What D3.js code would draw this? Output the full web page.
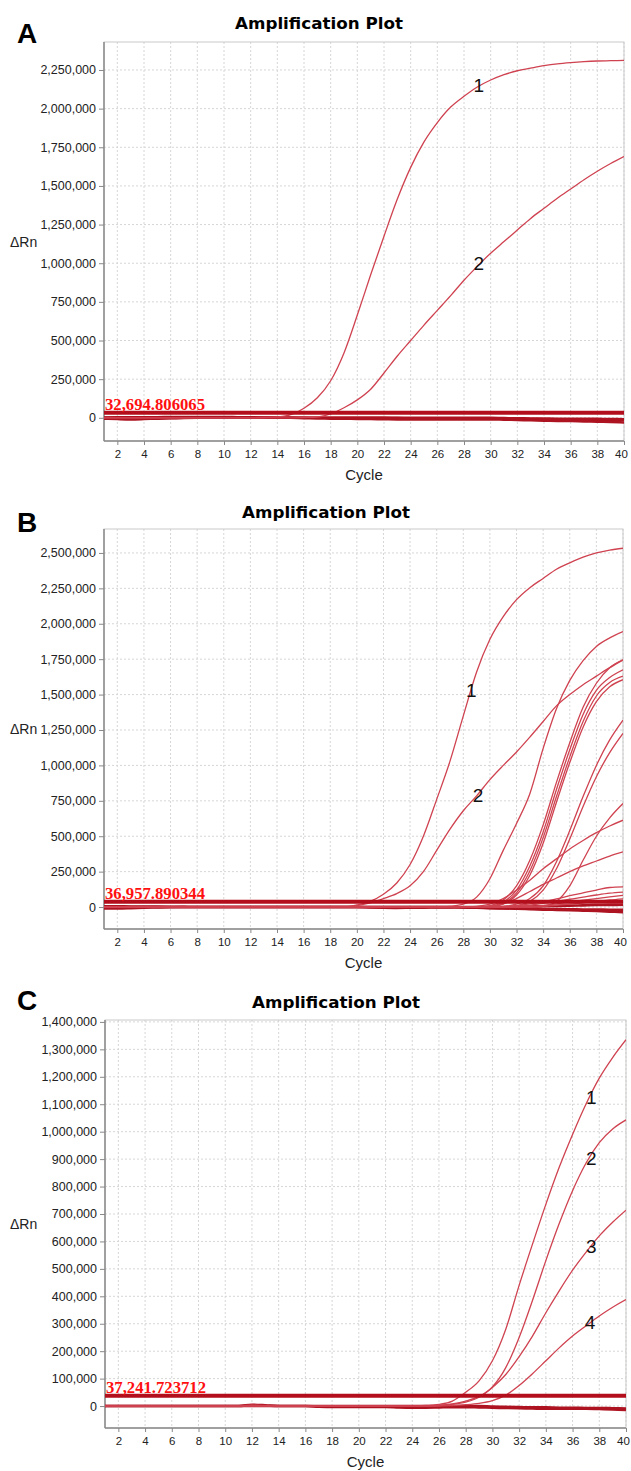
<!DOCTYPE html>
<html>
<head>
<meta charset="utf-8">
<script src="https://cdn.jsdelivr.net/npm/d3@7"></script>
<style>
body { margin: 0; background: #fff; }
text { font-family: "Liberation Sans", Arial, sans-serif; }
</style>
</head>
<body>
<svg width="631" height="1471"></svg>
<script>
var svg = d3.select('svg');

// cycle numbers and x tick labels (shared by all three plots)
var cycles = [1,2,3,4,5,6,7,8,9,10,11,12,13,14,15,16,17,18,19,20,
              21,22,23,24,25,26,27,28,29,30,31,32,33,34,35,36,37,38,39,40];
var xTicks = [2,4,6,8,10,12,14,16,18,20,22,24,26,28,30,32,34,36,38,40];

// ---- Panel A (curve values in thousands of dRn) ----
var ticksA = [0,250000,500000,750000,1000000,1250000,1500000,1750000,2000000,2250000];
var thresholdA = 32694.806065;
var curveA1 = [0,0,0,0,0,0,0,0,0,0,0,0,2,6,20,62,130,240,420,665,925,1175,1415,1620,1785,1910,2010,2080,2140,2185,2220,2245,2262,2278,2290,2298,2304,2308,2310,2312];
var curveA2 = [0,0,0,0,0,0,0,0,0,0,0,0,0,0,0,2,5,25,65,116,185,290,400,500,600,695,790,890,980,1065,1140,1215,1290,1355,1420,1480,1540,1595,1645,1690];
var baseA1 = [-5,-8,-10,-8,-5,-3,-1,0,0,0,0,0,0,0,0,0,0,0,0,0,0,0,-2,-3,-4,-5,-5,-5,-5,-5,-6,-7,-8,-9,-10,-10,-11,-12,-13,-15];
var baseA2 = [2,3,3,4,4,5,5,5,5,5,4,3,2,1,0,-2,-4,-5,-6,-7,-8,-9,-10,-10,-10,-10,-10,-10,-10,-10,-12,-14,-16,-18,-20,-21,-23,-25,-27,-30];
var baseA3 = [0,0,-1,-2,-2,-1,0,0,0,0,0,0,0,0,0,0,0,0,0,0,0,0,0,0,0,0,0,0,0,0,-2,-3,-4,-5,-6,-6,-6,-7,-8,-9];
var labelsA = [['1', 29.1, 2150], ['2', 29.1, 1000]];

// ---- Panel B ----
var ticksB = [0,250000,500000,750000,1000000,1250000,1500000,1750000,2000000,2250000,2500000];
var thresholdB = 36957.890344;
var curveB1 = [0,0,0,0,0,0,0,0,0,0,0,0,0,0,0,0,0,0,0,15,40,90,170,300,500,760,1030,1350,1660,1890,2050,2170,2255,2320,2385,2430,2470,2500,2520,2533];
var curveB2 = [0,0,0,0,0,0,0,0,0,0,0,0,0,0,0,0,0,0,0,10,30,60,95,150,250,400,550,680,785,900,1000,1095,1200,1310,1420,1500,1570,1630,1690,1745];
var curveB3 = [0,0,0,0,0,0,0,0,0,0,0,0,0,0,0,0,0,0,0,0,0,0,0,0,0,0,5,20,70,200,400,590,800,1120,1400,1600,1740,1840,1900,1945];
var curveB4 = [0,0,0,0,0,0,0,0,0,0,0,0,0,0,0,0,0,0,0,0,0,0,0,0,0,0,0,0,0,10,50,150,330,580,880,1160,1410,1580,1690,1745];
var curveB5 = [0,0,0,0,0,0,0,0,0,0,0,0,0,0,0,0,0,0,0,0,0,0,0,0,0,0,0,0,0,5,35,120,290,530,830,1110,1360,1530,1620,1675];
var curveB6 = [0,0,0,0,0,0,0,0,0,0,0,0,0,0,0,0,0,0,0,0,0,0,0,0,0,0,0,0,0,0,25,100,255,490,780,1060,1310,1490,1585,1630];
var curveB7 = [0,0,0,0,0,0,0,0,0,0,0,0,0,0,0,0,0,0,0,0,0,0,0,0,0,0,0,0,0,0,20,85,225,450,740,1020,1270,1450,1555,1605];
var curveB8 = [0,0,0,0,0,0,0,0,0,0,0,0,0,0,0,0,0,0,0,0,0,0,0,0,0,0,0,0,0,0,5,20,60,150,320,540,780,1000,1180,1320];
var curveB9 = [0,0,0,0,0,0,0,0,0,0,0,0,0,0,0,0,0,0,0,0,0,0,0,0,0,0,0,0,0,0,0,10,40,120,270,480,710,920,1090,1226];
var curveB10 = [0,0,0,0,0,0,0,0,0,0,0,0,0,0,0,0,0,0,0,0,0,0,0,0,0,0,0,0,0,0,0,0,0,5,40,150,330,500,630,731];
var curveB11 = [0,0,0,0,0,0,0,0,0,0,0,0,0,0,0,0,0,0,0,0,0,0,0,0,0,0,0,0,5,20,60,120,190,270,340,410,470,525,572,613];
var curveB12 = [0,0,0,0,0,0,0,0,0,0,0,0,0,0,0,0,0,0,0,0,0,0,0,0,0,0,0,0,0,5,25,60,110,160,205,250,290,325,360,389];
var curveB13 = [0,0,0,0,0,0,0,0,0,0,0,0,0,0,0,0,0,0,0,0,0,0,0,0,0,0,0,0,0,0,3,10,22,38,58,80,100,120,138,142];
var curveB14 = [0,0,0,0,0,0,0,0,0,0,0,0,0,0,0,0,0,0,0,0,0,0,0,0,0,0,0,0,0,0,0,5,14,26,40,55,70,85,98,106];
var curveB15 = [0,0,0,0,0,0,0,0,0,0,0,0,0,0,0,0,0,0,0,0,0,0,0,0,0,0,0,0,0,0,0,0,5,12,22,35,48,60,72,83];
var curveB16 = [0,0,0,0,0,0,0,0,0,0,0,0,0,0,0,0,0,0,0,0,0,0,0,0,0,0,0,0,0,0,0,0,0,5,12,20,30,40,50,58];
var baseB1 = [-10,-10,-8,-5,-3,-1,0,0,0,0,0,0,0,0,0,0,0,0,0,0,0,0,0,0,0,0,0,-3,-5,-8,-10,-12,-15,-18,-20,-22,-25,-28,-32,-36];
var baseB2 = [0,0,0,0,0,0,0,0,0,0,0,0,0,0,0,0,0,0,0,0,0,0,0,0,0,0,0,-2,-4,-6,-8,-10,-12,-14,-15,-16,-17,-18,-19,-20];
var baseB3 = [5,5,4,4,3,2,1,0,0,0,0,0,0,0,0,0,0,0,0,0,-3,-5,-6,-5,-4,-3,-2,0,0,0,0,2,4,6,8,10,12,14,15,16];
var labelsB = [['1', 28.6, 1530], ['2', 29.1, 790]];

// ---- Panel C ----
var ticksC = [0,100000,200000,300000,400000,500000,600000,700000,800000,900000,1000000,1100000,1200000,1300000,1400000];
var thresholdC = 37241.723712;
var curveC1 = [0,0,0,0,0,0,0,0,0,0,0,4,2,0,0,0,0,0,0,0,0,0,0,0,2,6,18,50,92,165,280,440,590,735,870,990,1100,1195,1270,1335];
var curveC2 = [0,0,0,0,0,0,0,0,0,0,0,0,0,0,0,0,0,0,0,0,0,0,0,0,0,3,8,18,35,70,140,250,385,530,665,785,885,960,1010,1043];
var curveC3 = [0,0,0,0,0,0,0,0,0,0,0,0,0,0,0,0,0,0,0,0,0,0,0,0,0,2,6,14,32,68,115,180,255,340,420,495,560,620,670,714];
var curveC4 = [0,0,0,0,0,0,0,0,0,0,0,0,0,0,0,0,0,0,0,0,0,0,0,0,0,0,2,5,10,20,40,75,118,165,212,255,292,328,360,388];
var baseC1 = [0,0,0,0,0,0,0,0,0,0,0,5,3,0,0,0,-2,-3,-3,-3,-3,-3,-5,-6,-6,-5,-4,-4,-5,-6,-7,-8,-9,-10,-10,-10,-10,-11,-12,-14];
var baseC2 = [0,0,0,0,0,0,0,0,0,0,0,0,0,0,0,0,0,0,0,0,0,0,0,0,0,0,0,0,0,-2,-3,-4,-5,-5,-6,-6,-7,-7,-8,-9];
var labelsC = [['1', 37.4, 1125], ['2', 37.4, 905], ['3', 37.4, 582], ['4', 37.3, 306]];

// ---- layout for each panel ----
var panels = [
    {letter: 'A', box: {l: 104, r: 624, t: 42, b: 441}, yDomain: [-150000, 2431000],
     ticks: ticksA, threshold: thresholdA, thrText: '32,694.806065',
     curves: [curveA1, curveA2], bases: [baseA1, baseA2, baseA3], labels: labelsA,
     titleX: 319, titleY: 29, letterY: 43},
    {letter: 'B', box: {l: 104, r: 623, t: 529, b: 929}, yDomain: [-155000, 2669000],
     ticks: ticksB, threshold: thresholdB, thrText: '36,957.890344',
     curves: [curveB1, curveB2, curveB3, curveB4, curveB5, curveB6, curveB7, curveB8,
              curveB9, curveB10, curveB11, curveB12, curveB13, curveB14, curveB15, curveB16],
     bases: [baseB1, baseB2, baseB3], labels: labelsB,
     titleX: 326, titleY: 518, letterY: 532},
    {letter: 'C', box: {l: 105, r: 626, t: 1020, b: 1428}, yDomain: [-80000, 1407000],
     ticks: ticksC, threshold: thresholdC, thrText: '37,241.723712',
     curves: [curveC1, curveC2, curveC3, curveC4], bases: [baseC1, baseC2], labels: labelsC,
     titleX: 336, titleY: 1008, letterY: 1010}
];

var fmt = d3.format(',');

panels.forEach(function(p, i) {
    var b = p.box;
    var x = d3.scaleLinear().domain([1, 40]).range([b.l, b.r]);
    var y = d3.scaleLinear().domain(p.yDomain).range([b.b, b.t]);
    var g = svg.append('g');

    // panel letter and title
    g.append('text').attr('x', 17).attr('y', p.letterY)
        .style('font-size', '28px').style('font-weight', 'bold').text(p.letter);
    g.append('text').attr('x', p.titleX).attr('y', p.titleY)
        .attr('text-anchor', 'middle')
        .style('font-family', '"DejaVu Sans", Verdana, sans-serif')
        .style('font-size', '16px').style('font-weight', 'bold')
        .attr('textLength', 168).attr('lengthAdjust', 'spacingAndGlyphs')
        .text('Amplification Plot');

    // dashed grid
    g.selectAll('.hgrid').data(p.ticks).enter().append('line')
        .attr('x1', b.l).attr('x2', b.r)
        .attr('y1', function(d){ return y(d); }).attr('y2', function(d){ return y(d); })
        .attr('stroke', '#d6d6d6').attr('stroke-dasharray', '2,2');
    g.selectAll('.vgrid').data(xTicks).enter().append('line')
        .attr('x1', function(d){ return x(d); }).attr('x2', function(d){ return x(d); })
        .attr('y1', b.t).attr('y2', b.b)
        .attr('stroke', '#d6d6d6').attr('stroke-dasharray', '2,2');

    // frame
    g.append('rect').attr('x', b.l).attr('y', b.t)
        .attr('width', b.r - b.l).attr('height', b.b - b.t)
        .attr('fill', 'none').attr('stroke', '#c9c9c9');

    // axes
    var yAxis = d3.axisLeft(y).tickValues(p.ticks).tickSize(5).tickPadding(3)
        .tickFormat(function(d){ return fmt(d); });
    var yG = g.append('g').attr('transform', 'translate(' + b.l + ',0)').call(yAxis);
    yG.select('.domain').attr('stroke', '#8a8a8a').attr('stroke-width', 1.5)
        .attr('d', 'M0,' + b.t + 'V' + b.b);
    yG.selectAll('.tick line').attr('stroke', '#888');
    yG.selectAll('.tick text').style('font-size', '12.5px').attr('fill', '#222')
        .style('font-family', '"Liberation Sans", Arial, sans-serif');

    var xAxis = d3.axisBottom(x).tickValues(xTicks).tickSize(4).tickPadding(5);
    var xG = g.append('g').attr('transform', 'translate(0,' + b.b + ')').call(xAxis);
    xG.select('.domain').attr('stroke', '#8a8a8a').attr('stroke-width', 1.5)
        .attr('d', 'M' + b.l + ',0H' + b.r);
    xG.selectAll('.tick line').attr('stroke', '#888');
    xG.selectAll('.tick text').style('font-size', '11.5px').attr('fill', '#222')
        .style('font-family', '"Liberation Sans", Arial, sans-serif')
        .attr('dx', function(d){ return d === 40 ? -3 : 0; });

    // axis titles
    g.append('text').attr('x', (b.l + b.r) / 2).attr('y', b.b + 39)
        .attr('text-anchor', 'middle').style('font-size', '15px').attr('fill', '#222')
        .text('Cycle');
    g.append('text').attr('x', 10).attr('y', (b.t + b.b) / 2 + 5)
        .style('font-size', '14px').attr('fill', '#222').text('\u0394Rn');

    // clip
    var clipId = 'clip' + i;
    svg.append('clipPath').attr('id', clipId).append('rect')
        .attr('x', b.l).attr('y', b.t).attr('width', b.r - b.l).attr('height', b.b - b.t);
    var plot = g.append('g').attr('clip-path', 'url(#' + clipId + ')');

    var line = d3.line()
        .x(function(d, j){ return x(cycles[j]); })
        .y(function(d){ return y(d * 1000); })
        .curve(d3.curveMonotoneX);

    // baseline wells (dark, overlapping near zero)
    plot.selectAll('.base').data(p.bases).enter().append('path')
        .attr('d', line).attr('fill', 'none')
        .attr('stroke', '#ad1320').attr('stroke-width', 2.6);

    // amplification curves
    plot.selectAll('.amp').data(p.curves).enter().append('path')
        .attr('d', line).attr('fill', 'none')
        .attr('stroke', '#cf4250').attr('stroke-width', 1.3);

    // threshold
    plot.append('line').attr('x1', b.l).attr('x2', b.r)
        .attr('y1', y(p.threshold)).attr('y2', y(p.threshold))
        .attr('stroke', '#b20e1b').attr('stroke-width', 4);
    g.append('text').attr('x', b.l + 1).attr('y', y(p.threshold) - 3)
        .style('font-family', '"Liberation Serif", "Times New Roman", serif')
        .style('font-size', '16px').style('font-weight', 'bold').attr('fill', '#ff1010')
        .attr('textLength', 100).attr('lengthAdjust', 'spacingAndGlyphs')
        .text(p.thrText);

    // curve labels
    g.selectAll('.lab').data(p.labels).enter().append('text')
        .attr('x', function(d){ return x(d[1]); })
        .attr('y', function(d){ return y(d[2] * 1000) + 7; })
        .attr('text-anchor', 'middle').style('font-size', '19px').attr('fill', '#111')
        .text(function(d){ return d[0]; });
});
</script>
</body>
</html>
